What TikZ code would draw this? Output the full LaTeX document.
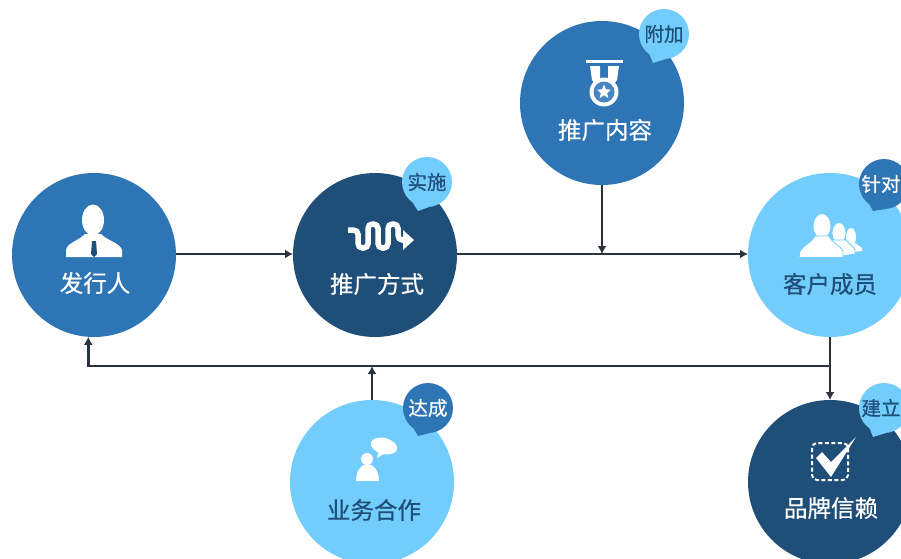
\documentclass[tikz,border=0pt]{standalone}
\usepackage{fontspec}
\setmainfont{Noto Sans CJK SC}[FakeBold=0.5]
\usetikzlibrary{arrows.meta,shapes.geometric}
\definecolor{midb}{HTML}{2E75B6}
\definecolor{darkb}{HTML}{1F4E79}
\definecolor{lightb}{HTML}{72CCFC}
\definecolor{linec}{HTML}{2B3340}
\tikzset{
  disc/.style={circle,minimum size=164pt,inner sep=0pt,outer sep=0pt,fill=#1},
  bubble/.style={circle,minimum size=50pt,inner sep=0pt,outer sep=0pt,fill=#1},
  lab/.style={font=\fontsize{23.5}{25}\selectfont,text=#1,inner sep=0pt},
  blab/.style={font=\fontsize{19.5}{22}\selectfont,text=#1,inner sep=0pt},
  conn/.style={draw=linec,line width=2.7pt},
  arr/.style={conn,-{Latex[length=8pt,width=9pt]}},
  icon/.style={fill=white,draw=none}
}
\begin{document}
\begin{tikzpicture}[x=1pt,y=-1pt]
\useasboundingbox (0,0) rectangle (901,558);
\clip (0,0) rectangle (901,558);
% main circles
\node[disc=midb] (fa) at (94,255) {};
\node[disc=darkb] (tui) at (375,255) {};
\node[disc=midb] (nei) at (602,103) {};
\node[disc=lightb] (ke) at (830,255) {};
\node[disc=darkb] (pin) at (830,482) {};
\node[disc=lightb] (ye) at (372,482) {};
% junction points
\coordinate (j1) at (602,254);
\coordinate (j2) at (830,366);
\coordinate (j3) at (372,366);
% connectors
\draw[arr] (fa.east |- 0,254) -- (tui.west |- 0,254);
\draw[arr] (tui.east |- 0,254) -- (ke.west |- 0,254);
\draw[arr] (nei.south) -- (j1);
\draw[arr] (ke.south) -- (pin.north);
\draw[arr] (j2) -| (fa.266);
\draw[arr] (ye.north) -- (j3);
% bubbles
\node[bubble=lightb] (b1) at (664,34) {};
\fill[lightb] (b1.235) -- (653,63) -- (b1.275) -- cycle;
\node[blab=darkb] at (b1) {附加};
\node[bubble=lightb] (b2) at (427,182) {};
\fill[lightb] (b2.235) -- (418,211) -- (b2.275) -- cycle;
\node[blab=darkb] at (b2) {实施};
\node[bubble=midb] (b3) at (884,184) {};
\fill[midb] (b3.235) -- (873,211) -- (b3.275) -- cycle;
\node[blab=white,xshift=-3pt] at (b3) {针对};
\node[bubble=lightb] (b4) at (884,408) {};
\fill[lightb] (b4.235) -- (873,437) -- (b4.275) -- cycle;
\node[blab=darkb,xshift=-3pt] at (b4) {建立};
\node[bubble=midb] (b5) at (428,408) {};
\fill[midb] (b5.235) -- (418,436) -- (b5.275) -- cycle;
\node[blab=white] at (b5) {达成};
% labels
\node[lab=white] at (95,283) {发行人};
\node[lab=white] at (377,284) {推广方式};
\node[lab=white] at (605,130) {推广内容};
\node[lab=darkb] at (830,284) {客户成员};
\node[lab=white] at (831,508) {品牌信赖};
\node[lab=darkb] at (374,510) {业务合作};
% person icon
\fill[icon] (93,220) ellipse (11 and 15.5);
\fill[icon] (66,257) -- (66,250) .. controls (67,243) and (78,241) .. (85,234) -- (101,234) .. controls (108,241) and (120,243) .. (122,250) -- (122,257) -- cycle;
\fill[darkb] (92,241) -- (96,241) -- (97,254) -- (94,257) -- (91,254) -- cycle;
% medal icon
\fill[icon] (586,60) rectangle (623,63);
\fill[icon] (590,66) -- (600,66) -- (600,78) -- (596,86) -- (592,80) -- cycle;
\fill[icon] (608,66) -- (619,66) -- (617,80) -- (612,86) -- (608,78) -- cycle;
\fill[icon] (604,92) circle (14.5);
\fill[midb!88!white] (604,92) circle (10.5);
\node[star,star points=5,star point ratio=2.3,fill=white,minimum size=15pt,inner sep=0pt] at (604,92) {};
% wave icon
\draw[white,line width=5.5pt,rounded corners=4.4pt] (348,230) -- (358,230) -- (358,248) -- (368,248) -- (368,224) -- (378,224) -- (378,248) -- (388,248) -- (388,224) -- (398,224) -- (398,240) -- (405,240);
\fill[icon] (403,230) -- (414,240) -- (403,250) -- cycle;
% people icon
\fill[icon] (851,237) ellipse (5 and 9);
\fill[icon] (844,250) -- (850,243) -- (855,243) -- (862,248) -- (862,251) -- (845,253) -- cycle;
\draw[lightb,line width=.8pt,fill=white] (839,233) ellipse (7 and 10.5);
\draw[lightb,line width=.8pt,fill=white] (826,255) -- (832,240) -- (846,240) -- (855,249) -- (855,254) -- (842,256) -- cycle;
\draw[lightb,line width=.8pt,fill=white] (822,226) ellipse (9 and 12.5);
\draw[lightb,line width=.8pt,fill=white] (799,257.5) -- (800,251) .. controls (804,245) and (811,243) .. (815,236) -- (829,236) .. controls (832,243) and (840,245) .. (843,251) -- (843,257.5) -- cycle;
% check icon
\draw[white,line width=2pt,dash pattern=on 4pt off 2.5pt,rounded corners=5pt] (812,443) rectangle (848,480);
\fill[icon] (816,458) -- (822,452) -- (831,462) -- (856,437) -- (831,477) -- cycle;
% chat icon
\fill[icon,rotate around={-15:(384,446)}] (384,446) ellipse (13.5 and 8);
\fill[icon] (379,451) -- (377,458) -- (389,451) -- cycle;
\fill[icon] (367,459) circle (6);
\fill[icon] (356,481) .. controls (356,470) and (362,464) .. (367,464) .. controls (373,464) and (379,470) .. (379,481) -- cycle;
\end{tikzpicture}
\end{document}
